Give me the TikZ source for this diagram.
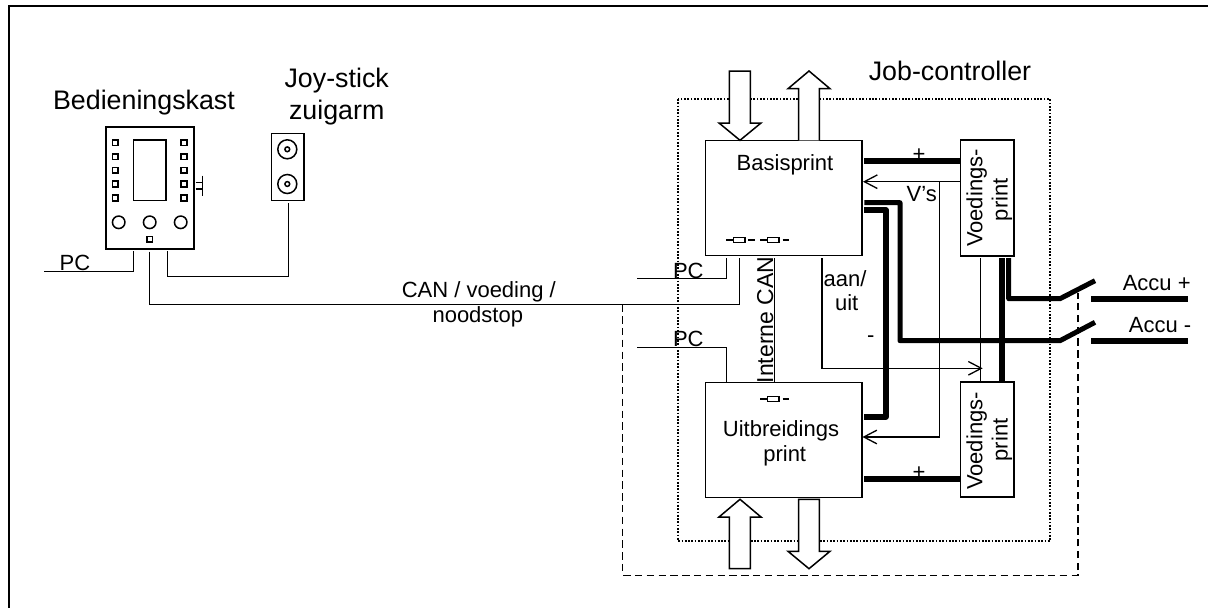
\documentclass[tikz,border=0pt]{standalone}
\usepackage{fontspec}
\setmainfont{Liberation Sans}
\usetikzlibrary{calc}
\tikzset{
  thin line/.style={line width=1.4pt,line cap=butt,line join=miter},
  body line/.style={line width=1.5pt,line join=miter},
  frame line/.style={line width=2pt},
  power/.style={line width=5pt,line join=round,line cap=butt},
  powerwide/.style={line width=6pt,line join=round,line cap=butt},
  boxnode/.style={draw,line width=1.5pt,inner sep=0pt,outer sep=0pt,fill=white},
  smallsq/.style={draw,line width=1.5pt,inner sep=0pt,minimum size=5.8pt},
  knob/.style={circle,draw,line width=1.5pt,inner sep=0pt},
  bigtxt/.style={anchor=base,font=\fontsize{26.8}{27}\selectfont,inner sep=0pt},
  txt/.style={anchor=base,font=\fontsize{22}{22}\selectfont,inner sep=0pt},
  vtxt/.style={anchor=base,rotate=90,font=\fontsize{22}{22}\selectfont,inner sep=0pt},
  fatarrow/.style={draw,line width=1.5pt,fill=white,line join=miter},
  dottedbox/.style={line width=1.8pt,dash pattern=on 1.7pt off 1.6pt},
  dashedbox/.style={line width=1.5pt,dash pattern=on 7.5pt off 4.3pt},
  res/.style={draw,line width=1.4pt,inner sep=0pt,minimum width=11.5pt,minimum height=5.4pt}
}
\newcommand{\openhead}[2]{% tip coordinate name, signed length
  \draw[line width=1.3pt] ($(#1)+(#2,-6.8)$) -- (#1) -- ($(#1)+(#2,6.8)$);
}
\begin{document}
\begin{tikzpicture}[x=1pt,y=-1pt]
\useasboundingbox (0,0) rectangle (1208,608);
% outer frame (top and left only)
\coordinate (frTR) at (1208,6);
\coordinate (frTL) at (9,6);
\coordinate (frBL) at (9,608);
\draw[frame line] (frTR) -- (frTL) -- (frBL);

% dotted and dashed enclosures
\coordinate (dotA) at (678,99);
\coordinate (dotB) at (1050,541);
\draw[dottedbox] (dotA) rectangle (dotB);
\coordinate (dashA) at (622.7,304.3);
\coordinate (dashB) at (622.7,575.3);
\coordinate (dashC) at (1078,575.3);
\coordinate (dashD) at (1078,293);
\draw[dashedbox] (dashA) -- (dashB) -- (dashC) -- (dashD);

% panel
\node[boxnode,minimum width=88pt,minimum height=122pt] (panel) at (150,188) {};
\node[boxnode,minimum width=32.3pt,minimum height=60.7pt] (screen) at (149.8,170.3) {};
\foreach \i/\yy in {1/142.7,2/156.7,3/170.3,4/184,5/198}{
  \node[smallsq] (kl\i) at (115.3,\yy) {};
  \node[smallsq] (kr\i) at (184,\yy) {};
}
\foreach \i/\xx in {1/118.7,2/149.7,3/180.7}{
  \node[knob,minimum size=12.5pt] (kn\i) at (\xx,222.3) {};
}
\node[smallsq] (led) at (149.7,239.3) {};
\coordinate (swA) at (202.7,175.7);
\coordinate (swB) at (202.7,195.7);
\coordinate (swC) at (195.7,182.3);
\coordinate (swD) at (195.7,189);
\draw[body line] (swA) -- (swB) (swC) -- (swC -| swA) (swD) -- (swD -| swA);
\node[bigtxt] (lblpanel) at (144,109.3) {Bedieningskast};

% joystick
\node[boxnode,minimum width=32.7pt,minimum height=67.4pt] (joy) at (287.7,167) {};
\foreach \i/\yy in {1/149.3,2/184}{
  \node[knob,minimum size=19pt] (jo\i) at (287.3,\yy) {};
  \node[knob,minimum size=4.8pt] (ji\i) at (287.3,\yy) {};
}
\node[bigtxt] (lbljoy1) at (336.7,87.7) {Joy-stick};
\node[bigtxt] (lbljoy2) at (336.7,119) {zuigarm};

% print boards
\node[boxnode,minimum width=156.7pt,minimum height=115.4pt] (basis) at (783.7,198) {};
\node[txt] (lblbasis) at (785,170) {Basisprint};
\node[boxnode,minimum width=156.7pt,minimum height=115pt] (uit) at (783.7,439.8) {};
\node[txt] (lbluit1) at (781,436.7) {Uitbreidings};
\node[txt] (lbluit2) at (784.7,461.7) {print};
\node[boxnode,minimum width=53.3pt,minimum height=116pt] (vp1) at (987.3,198) {};
\node[vtxt] (vp1a) at (982.3,198) {Voedings-};
\node[vtxt] (vp1b) at (1007.7,199.7) {print};
\node[boxnode,minimum width=53.3pt,minimum height=115pt] (vp2) at (987.3,439.5) {};
\node[vtxt] (vp2a) at (982.3,441) {Voedings-};
\node[vtxt] (vp2b) at (1007.5,440) {print};

% panel lines
\coordinate (pcfree) at (44,271.3);
\coordinate (pcP) at ([yshift=-2pt]panel.south -| 133.7,0);
\draw[body line] (pcfree) -- (pcfree -| pcP) -- (pcP);
\node[txt] (pc1) at (75,270.3) {PC};
\coordinate (joyA) at ([yshift=-2pt]panel.south -| 167.7,0);
\coordinate (joyB) at ([yshift=-2.4pt]joy.south -| 288.7,0);
\draw[body line] (joyA) -- (167.7,276.3) -- (288.7,276.3) -- (joyB);

% resistors
\foreach \nm/\xx/\yy in {ra/739.2/240,rb/773.4/240,rc/773.4/399}{
  \node[res] (\nm) at (\xx,\yy) {};
  \draw[line width=1.4pt] (\nm.west) -- ++(-6.5,0);
  \draw[line width=1.4pt] ($(\nm.east)+(2.7,0)$) -- ++(6.5,0);
}

% CAN line
\coordinate (canA) at ([yshift=-2.6pt]panel.south -| 149.7,0);
\coordinate (canB) at ([yshift=-2.6pt]basis.south -| 739.3,0);
\draw[body line] (canA) -- (149.7,304.3) -- (739.3,304.3) -- (canB);
\node[txt] (lblcan1) at (478.8,297.3) {CAN / voeding /};
\node[txt] (lblcan2) at (477.8,322.7) {noodstop};

% PC lines to the boards
\coordinate (pcb) at ([yshift=-2.6pt]basis.south -| 726.7,0);
\coordinate (pcbfree) at (637,278.3);
\draw[body line] (pcbfree) -- (pcbfree -| pcb) -- (pcb);
\node[txt] (pc2) at (688.3,278) {PC};
\coordinate (pcu) at (uit.north -| 726.7,0);
\coordinate (pcufree) at (637,347.3);
\draw[body line] (pcufree) -- (pcufree -| pcu) -- (pcu);
\node[txt] (pc3) at (688.3,346.7) {PC};

% interne CAN
\draw[body line] ([yshift=-2.6pt]basis.south -| 774.7,0) -- (uit.north -| 774.7,0);
\node[vtxt,font=\fontsize{23}{23}\selectfont] (lblint) at (773,320) {Interne CAN};

% aan/uit
\coordinate (aanTip) at (981.3,368.3);
\draw[thin line] ([yshift=-2.6pt]basis.south -| 822,0) -- (822,368.3) -- (aanTip);
\openhead{aanTip}{-13}
\node[txt] (lblaan) at (845,286) {aan/};
\node[txt] (lbluit) at (846.7,310) {uit};

% V's
\coordinate (vTipB) at ([xshift=2.3pt]basis.east |- 0,181.7);
\coordinate (vTipU) at ([xshift=1.8pt]uit.east |- 0,437);
\draw[thin line] (vp1.west |- 0,181.7) -- (vTipB);
\openhead{vTipB}{13}
\draw[thin line] (939.7,181.7) -- (939.7,437) -- (vTipU);
\openhead{vTipU}{13}
\node[txt] (lblv) at (921.7,201.7) {V’s};

% power lines
\draw[thin line] ([yshift=-2pt]vp1.south -| 980.7,0) -- (vp2.north -| 980.7,0);
\draw[powerwide] ([yshift=-2pt]vp1.south -| 1002,0) -- (vp2.north -| 1002,0);
\coordinate (accP) at (1095,280.7);
\coordinate (accM) at (1095,322.3);
\draw[power] ([yshift=-2pt]vp1.south -| 1008.7,0) -- (1008.7,298.7) -- (1060,298.7) -- (accP);
\draw[power] ([xshift=2.3pt]basis.east |- 0,202.7) -- (900,202.7) -- (900,340.7) -- (1060,340.7) -- (accM);
\draw[powerwide] ([xshift=2.3pt]basis.east |- 0,210) -- (885.7,210) -- (885.7,416.7) -- ([xshift=2.3pt]uit.east |- 0,416.7);
\draw[powerwide] ([xshift=2.3pt]basis.east |- 0,160.7) -- (vp1.west |- 0,160.7);
\draw[powerwide] ([xshift=2.3pt]uit.east |- 0,478.7) -- (vp2.west |- 0,478.7);
\node[txt] (plus1) at (919,161) {+};
\node[txt] (plus2) at (919,479) {+};
\node[txt] (minus) at (870.7,342) {-};

% contacts
\coordinate (cpA) at (1091,298.7);
\coordinate (cpB) at (1188,298.7);
\coordinate (cmA) at (1091,340.7);
\coordinate (cmB) at (1188,340.7);
\draw[powerwide] (cpA) -- (cpB);
\draw[powerwide] (cmA) -- (cmB);
\node[txt] (lblap) at (1156.7,290.7) {Accu +};
\node[txt] (lblam) at (1160,332.3) {Accu -};

% fat arrows
\draw[fatarrow] (729.3,71) -- (750.3,71) -- (750.3,123) -- (761,123) -- (740,140.3) -- (719,123) -- (729.3,123) -- cycle;
\draw[fatarrow] (798.7,140.3) -- (798.7,88.7) -- (788,88.7) -- (809,71) -- (830,88.7) -- (819.3,88.7) -- (819.3,140.3);
\draw[fatarrow] (729.3,568.7) -- (750.3,568.7) -- (750.3,517) -- (761,517) -- (740,499.3) -- (719,517) -- (729.3,517) -- cycle;
\draw[fatarrow] (798.7,499.3) -- (819.3,499.3) -- (819.3,551.3) -- (830,551.3) -- (809,568.7) -- (788,551.3) -- (798.7,551.3) -- cycle;

\node[bigtxt] (lbljob) at (950,80.7) {Job-controller};
\end{tikzpicture}
\end{document}
